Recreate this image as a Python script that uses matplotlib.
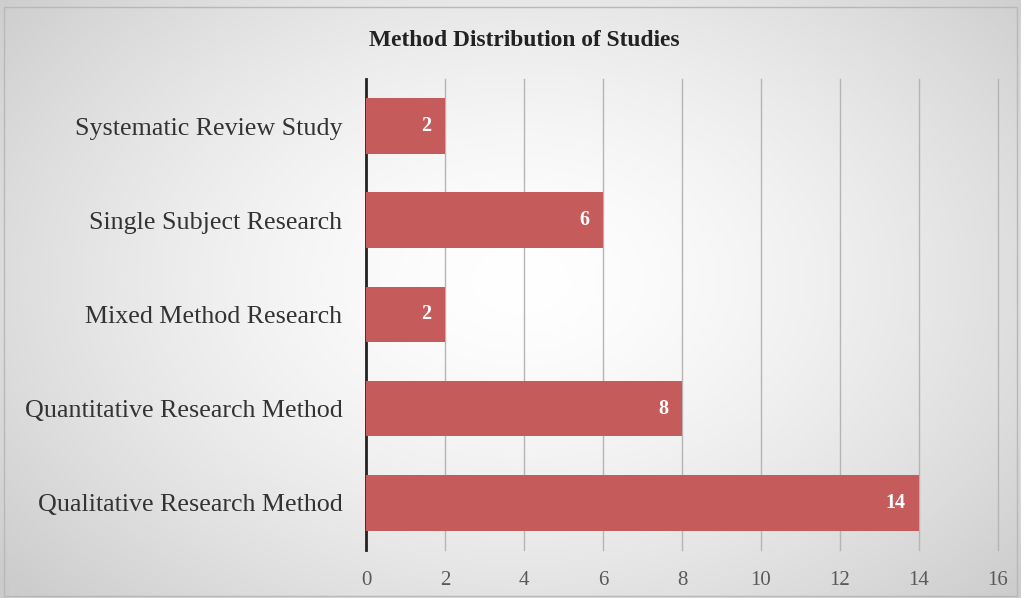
import numpy as np
import matplotlib
matplotlib.use("Agg")
import matplotlib.pyplot as plt
from matplotlib.patches import Rectangle

categories = ["Qualitative Research Method", "Quantitative Research Method",
              "Mixed Method Research", "Single Subject Research",
              "Systematic Review Study"]
values = [14, 8, 2, 6, 2]
xticks = [0, 2, 4, 6, 8, 10, 12, 14, 16]
title = "Method Distribution of Studies"

plt.rcParams['font.family'] = ['Liberation Serif', 'DejaVu Serif']

fig = plt.figure(figsize=(10.21, 5.98), dpi=100)

# background radial gradient
bg = fig.add_axes([0, 0, 1, 1], zorder=-10)
yy, xx = np.mgrid[0:598, 0:1021]
r = np.sqrt(((xx - 520) / 600.0) ** 2 + ((yy - 280) / 420.0) ** 2)
v = np.clip(1.0 - 0.17 * r ** 1.5, 0.80, 1.0)
bg.imshow(np.dstack([v, v, v]), extent=[0, 1, 0, 1], aspect='auto', origin='upper')
bg.add_patch(Rectangle((0.004, 0.004), 0.992, 0.985, fill=False, edgecolor='#b8b8b8', lw=1.0,
                       transform=bg.transAxes))
bg.axis('off')

ax = fig.add_axes([0.3585, 0.0803, 0.619, 0.7877])
ax.patch.set_alpha(0)
y = np.arange(len(categories))
ax.barh(y, values, height=0.59, color='#c65b5b', zorder=3)
for yi, v_ in zip(y, values):
    ax.text(v_ - 0.35, yi, str(v_), ha='right', va='center', color='white',
            fontsize=14.5, fontweight='bold', zorder=4)
ax.set_xlim(0, 16)
ax.set_ylim(-0.5, len(categories) - 0.5)
ax.set_yticks(y)
ax.set_yticklabels(categories, fontsize=18.7, color='#333333')
ax.set_xticks(xticks)
ax.set_xticklabels([str(t) for t in xticks], fontsize=15, color='#595959')
ax.tick_params(axis='y', length=0, pad=17)
ax.tick_params(axis='x', length=0, pad=15)
for t in xticks[1:]:
    ax.axvline(t, color='#b5b5b5', lw=1.0, zorder=1, clip_on=False)
for s in ['top', 'right', 'bottom']:
    ax.spines[s].set_visible(False)
ax.spines['left'].set_color('#222222')
ax.spines['left'].set_linewidth(2.0)

fig.text(0.514, 0.932, title, ha='center', va='center', fontsize=16.9, fontweight='bold',
         color='#222222')

fig.savefig('out.png', dpi=100)
